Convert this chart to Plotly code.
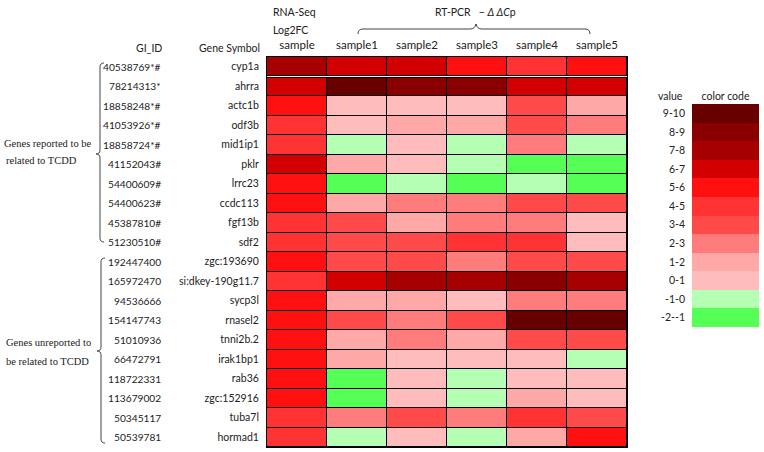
import plotly.graph_objects as go

W, H = 764, 452

genes = ["cyp1a", "ahrra", "actc1b", "odf3b", "mid1ip1", "pklr", "lrrc23", "ccdc113",
         "fgf13b", "sdf2", "zgc:193690", "si:dkey-190g11.7", "sycp3l", "rnasel2",
         "tnni2b.2", "irak1bp1", "rab36", "zgc:152916", "tuba7l", "hormad1"]
gi_ids = ["40538769*#", "78214313*", "18858248*#", "41053926*#", "18858724*#",
          "41152043#", "54400609#", "54400623#", "45387810#", "51230510#",
          "192447400", "165972470", "94536666", "154147743", "51010936",
          "66472791", "118722331", "113679002", "50345117", "50539781"]
columns = ["sample", "sample1", "sample2", "sample3", "sample4", "sample5"]

rna_seq = [7.5, 6.5, 5.5, 4.5, 4.5, 6.5, 5.5, 5.5, 4.5, 4.5, 5.5, 4.5, 5.5, 5.5, 5.5, 5.5, 5.5, 5.5, 4.5, 4.5]
sample1 = [6.5, 9.5, 0.5, 0.5, -0.5, 1.5, -1.5, 1.5, 3.5, 3.5, 3.5, 6.5, 1.5, 3.5, 1.5, 1.5, -1.5, -1.5, 2.5, -0.5]
sample2 = [6.5, 8.5, 0.5, 1.5, 0.5, 0.5, -0.5, 2.5, 1.5, 3.5, 3.5, 7.5, 1.5, 2.5, 2.5, 0.5, 0.5, 0.5, 3.5, 0.5]
sample3 = [5.5, 8.5, 0.5, 1.5, -0.5, -0.5, -1.5, 2.5, 2.5, 4.5, 2.5, 7.5, 0.5, 3.5, 1.5, 0.5, -0.5, -0.5, 2.5, -0.5]
sample4 = [4.5, 6.5, 3.5, 3.5, 2.5, -1.5, -0.5, 3.5, 2.5, 4.5, 3.5, 8.5, 2.5, 9.5, 3.5, 0.5, 0.5, 1.5, 4.5, 1.5]
sample5 = [5.5, 6.5, 1.5, 2.5, -0.5, -1.5, -1.5, 3.5, 0.5, 0.5, 3.5, 7.5, 2.5, 9.5, 3.5, -0.5, 0.5, 0.5, 3.5, 5.5]

# legend bins (top to bottom) and their colour codes
bin_labels = ["9-10", "8-9", "7-8", "6-7", "5-6", "4-5", "3-4", "2-3", "1-2", "0-1", "-1-0", "-2--1"]
bin_values = [9.5, 8.5, 7.5, 6.5, 5.5, 4.5, 3.5, 2.5, 1.5, 0.5, -0.5, -1.5]
bin_colors = ["#680000", "#8a0000", "#a60000", "#d20000", "#ff1010", "#ff3333",
              "#ff4a4a", "#ff7c7c", "#ffa8a8", "#ffbcbc", "#b4ffb4", "#55ff55"]

ZMIN, ZMAX = -2, 10
nb = len(bin_colors)
colorscale = []
for i, c in enumerate(reversed(bin_colors)):
    colorscale.append([i / nb, c])
    colorscale.append([(i + 1) / nb, c])

z = [list(r) for r in zip(rna_seq, sample1, sample2, sample3, sample4, sample5)]

TXT = "#222222"
FONT = "Lato"
SMALL = 10.5

def px(x):
    return x / W

def py(y):
    return 1 - y / H

fig = go.Figure()
fig.add_trace(go.Heatmap(
    z=z, x=columns, y=genes, zmin=ZMIN, zmax=ZMAX, colorscale=colorscale,
    showscale=False, xgap=1, ygap=1, xaxis="x", yaxis="y"))
fig.add_trace(go.Heatmap(
    z=[[v] for v in bin_values], x=["color code"], y=bin_labels, zmin=ZMIN, zmax=ZMAX,
    colorscale=colorscale, showscale=False, xaxis="x2", yaxis="y2"))

hm_x0, hm_x1, hm_y0, hm_y1 = 267, 627, 57, 447
lg_x0, lg_x1, lg_y0, lg_y1 = 692, 759, 104, 327

fig.update_layout(
    width=W, height=H, margin=dict(l=0, r=0, t=0, b=0),
    paper_bgcolor="white", plot_bgcolor="black",
    font=dict(family=FONT, size=12, color=TXT),
    xaxis=dict(domain=[px(hm_x0), px(hm_x1)], anchor="y", side="top", showgrid=False,
               zeroline=False, ticks="", showline=True, mirror=True, linecolor="black",
               linewidth=1, ticklabelstandoff=2, tickfont=dict(size=11.5, color=TXT)),
    yaxis=dict(domain=[py(hm_y1), py(hm_y0)], anchor="x", autorange="reversed",
               showgrid=False, zeroline=False, ticks="", showline=True, mirror=True,
               linecolor="black", linewidth=1, ticklabelstandoff=5,
               tickfont=dict(size=SMALL, color=TXT)),
    xaxis2=dict(domain=[px(lg_x0), px(lg_x1)], anchor="y2", side="top", showgrid=False,
                zeroline=False, ticks="", ticklabelstandoff=1, tickfont=dict(size=SMALL, color=TXT)),
    yaxis2=dict(domain=[py(lg_y1), py(lg_y0)], anchor="x2", autorange="reversed",
                showgrid=False, zeroline=False, ticks="", ticklabelstandoff=6,
                tickfont=dict(size=SMALL, color=TXT)),
)

ann = []
for g, gid in zip(genes, gi_ids):
    ann.append(dict(x=px(163), xref="paper", y=g, yref="y", text=gid, showarrow=False,
                    xanchor="right", yanchor="middle", font=dict(size=10.2, color=TXT, family=FONT)))

def txt(x, y, s, anchor="left", size=SMALL, family=FONT):
    ann.append(dict(x=px(x), y=py(y), xref="paper", yref="paper", text=s, showarrow=False,
                    xanchor=anchor, yanchor="middle", font=dict(size=size, color=TXT, family=family)))

txt(164, 48, "GI_ID", "right")
txt(262, 48, "Gene Symbol", "right")
txt(271, 12, "RNA-Seq")
txt(271, 30, "Log2FC")
txt(475, 12, "RT-PCR   − <i>Δ ΔC</i>p", "center")
txt(685, 96, "value", "right")
serif = "Liberation Serif"
txt(2, 143, "Genes reported to be", size=10.5, family=serif)
txt(4, 160, "related to TCDD", size=10.5, family=serif)
txt(4, 342, "Genes unreported to", size=10.5, family=serif)
txt(4, 361, "be related to TCDD", size=10.5, family=serif)
fig.update_layout(annotations=ann)

def path(points_cmds):
    out = []
    for cmd in points_cmds:
        if isinstance(cmd, str):
            out.append(cmd)
        else:
            out.append(f"{px(cmd[0]):.5f},{py(cmd[1]):.5f}")
    return " ".join(out)

line = dict(color="#444444", width=1)
shapes = []
# double border between the first two rows
shapes.append(dict(type="line", xref="x domain", x0=0, x1=1, yref="y", y0=0.5, y1=0.5,
                   line=dict(color="black", width=3), layer="above"))
shapes.append(dict(type="line", xref="x domain", x0=0, x1=1, yref="y", y0=0.5, y1=0.5,
                   line=dict(color="#f0f0f0", width=1), layer="above"))
# top brace over RT-PCR samples
shapes.append(dict(type="path", xref="paper", yref="paper", line=line, path=path([
    "M", (358, 34), "Q", (358, 29), (363, 29), "L", (470, 29), "Q", (475, 29), (476, 24),
    "Q", (477, 29), (482, 29), "L", (585, 29), "Q", (590, 29), (590, 34)])))
# left group brackets
shapes.append(dict(type="path", xref="paper", yref="paper", line=line, path=path([
    "M", (104, 63), "Q", (100, 63), (100, 67), "L", (100, 150), "Q", (100, 154), (96, 154),
    "Q", (100, 154), (100, 158), "L", (100, 238), "Q", (100, 242), (104, 242)])))
shapes.append(dict(type="path", xref="paper", yref="paper", line=line, path=path([
    "M", (105, 258), "Q", (101, 258), (101, 262), "L", (101, 347), "Q", (101, 351), (97, 351),
    "Q", (101, 351), (101, 355), "L", (101, 439), "Q", (101, 443), (105, 443)])))
fig.update_layout(shapes=shapes)

fig.write_html("out.html", config={"displayModeBar": False},
               post_script="document.body.style.margin='0';")
